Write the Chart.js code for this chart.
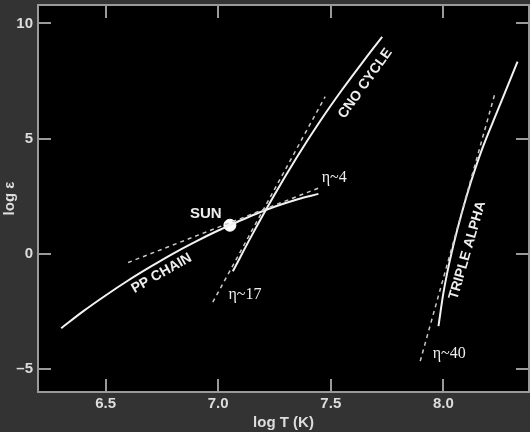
<!DOCTYPE html>
<html>
<head>
<meta charset="utf-8">
<script src="https://cdn.jsdelivr.net/npm/chart.js@4"></script>
<style>
  body { margin: 0; background: #333333; }
  canvas { display: block; }
</style>
</head>
<body>
<canvas id="grafica" width="530" height="432"></canvas>
<script>
// log T (K) vs log epsilon
const ppT = [6.303, 6.40, 6.50, 6.60, 6.70, 6.80, 6.90, 7.00, 7.052, 7.15, 7.25, 7.35, 7.445];
const ppEps = [-3.23, -2.50, -1.81, -1.16, -0.56, 0.01, 0.53, 1.01, 1.24, 1.66, 2.04, 2.36, 2.60];

const cnoT = [7.065, 7.15, 7.25, 7.35, 7.45, 7.55, 7.65, 7.728];
const cnoEps = [-0.76, 0.81, 2.56, 4.20, 5.72, 7.12, 8.43, 9.42];

const tripleT = [7.978, 8.000, 8.025, 8.050, 8.080, 8.120, 8.170, 8.240, 8.329];
const tripleEps = [-3.14, -1.70, -0.45, 0.60, 1.72, 3.05, 4.50, 6.20, 8.34];

// dashed power-law approximations
const ppFitT = [6.600, 7.450];
const ppFitEps = [-0.38, 2.87];
const cnoFitT = [6.976, 7.475];
const cnoFitEps = [-2.10, 6.82];
const tripleFitT = [7.897, 8.231];
const tripleFitEps = [-4.66, 7.04];

const sunT = [7.052];
const sunEps = [1.24];

const xTicks = [6.5, 7.0, 7.5, 8.0];
const yTicks = [-5, 0, 5, 10];

function pts(xs, ys) {
  return xs.map(function(x, i) { return {x: x, y: ys[i]}; });
}

const sans = '"Liberation Sans", Arial, sans-serif';
const serif = '"Liberation Serif", "Times New Roman", serif';

const textLabels = [
  {text: 'SUN', x: 6.945, y: 1.75, angle: 0, font: 'bold 15px ' + sans},
  {text: 'PP CHAIN', x: 6.749, y: -0.85, angle: -29.7, font: 'bold 14px ' + sans},
  {text: 'CNO CYCLE', x: 7.653, y: 7.39, angle: -54.5, font: 'bold 14px ' + sans},
  {text: 'TRIPLE ALPHA', x: 8.107, y: 0.15, angle: -73.8, font: 'bold 14px ' + sans},
  {text: 'η~4', x: 7.515, y: 3.31, angle: 0, font: '16px ' + serif},
  {text: 'η~17', x: 7.119, y: -1.80, angle: 0, font: '16px ' + serif},
  {text: 'η~40', x: 8.026, y: -4.35, angle: 0, font: '16px ' + serif}
];

const frame = {
  id: 'frame',
  beforeDraw: function(chart) {
    const c = chart.ctx, a = chart.chartArea;
    c.save();
    c.fillStyle = '#333333';
    c.fillRect(0, 0, chart.width, chart.height);
    c.fillStyle = '#000000';
    c.fillRect(a.left, a.top, a.right - a.left, a.bottom - a.top);
    c.restore();
  },
  afterDraw: function(chart) {
    const c = chart.ctx, a = chart.chartArea;
    const sx = chart.scales.x, sy = chart.scales.y;
    const len = 13;
    c.save();
    c.strokeStyle = '#9a9a9a';
    c.lineWidth = 2;
    c.strokeRect(a.left, a.top, a.right - a.left, a.bottom - a.top);
    c.beginPath();
    xTicks.forEach(function(v) {
      const px = Math.round(sx.getPixelForValue(v));
      c.moveTo(px, a.bottom); c.lineTo(px, a.bottom - len);
      c.moveTo(px, a.top); c.lineTo(px, a.top + len);
    });
    yTicks.forEach(function(v) {
      const py = Math.round(sy.getPixelForValue(v));
      c.moveTo(a.left, py); c.lineTo(a.left + len, py);
      c.moveTo(a.right, py); c.lineTo(a.right - len, py);
    });
    c.stroke();
    c.restore();
  }
};

const labelsPlugin = {
  id: 'labelsPlugin',
  afterDatasetsDraw: function(chart) {
    const c = chart.ctx;
    const sx = chart.scales.x, sy = chart.scales.y;
    c.save();
    c.fillStyle = '#eeeeee';
    c.textAlign = 'center';
    c.textBaseline = 'middle';
    textLabels.forEach(function(l) {
      c.save();
      c.translate(sx.getPixelForValue(l.x), sy.getPixelForValue(l.y));
      c.rotate(l.angle * Math.PI / 180);
      c.font = l.font;
      c.fillText(l.text, 0, 0);
      c.restore();
    });
    c.restore();
  }
};

function noPad(s) {
  s.paddingTop = 0; s.paddingBottom = 0; s.paddingLeft = 0; s.paddingRight = 0;
}

const solid = {borderColor: '#f2f2f2', borderWidth: 2, pointRadius: 0, fill: false, tension: 0.4, cubicInterpolationMode: 'monotone'};
const dashed = {borderColor: '#c8c8c8', borderWidth: 1.5, borderDash: [4, 4], pointRadius: 0, fill: false, tension: 0};

const ctx = document.getElementById('grafica').getContext('2d');
new Chart(ctx, {
  type: 'line',
  data: {
    datasets: [
      Object.assign({label: 'PP fit', data: pts(ppFitT, ppFitEps)}, dashed),
      Object.assign({label: 'CNO fit', data: pts(cnoFitT, cnoFitEps)}, dashed),
      Object.assign({label: 'Triple alpha fit', data: pts(tripleFitT, tripleFitEps)}, dashed),
      Object.assign({label: 'PP chain', data: pts(ppT, ppEps)}, solid),
      Object.assign({label: 'CNO cycle', data: pts(cnoT, cnoEps)}, solid),
      Object.assign({label: 'Triple alpha', data: pts(tripleT, tripleEps)}, solid),
      {
        label: 'Sun',
        type: 'scatter',
        data: pts(sunT, sunEps),
        pointRadius: 6,
        backgroundColor: '#ffffff',
        borderColor: '#ffffff'
      }
    ]
  },
  options: {
    responsive: false,
    animation: false,
    layout: { autoPadding: false, padding: { top: 5, right: 1, left: 0, bottom: 0 } },
    plugins: {
      legend: { display: false },
      tooltip: { enabled: false }
    },
    scales: {
      x: {
        type: 'linear',
        min: 6.2,
        max: 8.38,
        grid: { display: false, drawTicks: false },
        border: { display: false },
        afterBuildTicks: function(s) { s.ticks = xTicks.map(function(v) { return {value: v}; }); },
        afterFit: function(s) { s.height = 40; noPad(s); },
        ticks: {
          padding: 3,
          color: '#dddddd',
          maxRotation: 0,
          font: { family: sans, size: 15, weight: 'bold' },
          callback: function(v) { return Number(v).toFixed(1); }
        },
        title: {
          display: true,
          text: 'log T (K)',
          color: '#dddddd',
          padding: { top: 0, bottom: 0 },
          font: { family: sans, size: 15, weight: 'bold' }
        }
      },
      y: {
        type: 'linear',
        min: -6,
        max: 10.8,
        grid: { display: false, drawTicks: false },
        border: { display: false },
        afterBuildTicks: function(s) { s.ticks = yTicks.map(function(v) { return {value: v}; }); },
        afterFit: function(s) { s.width = 38; noPad(s); },
        ticks: {
          padding: 5,
          color: '#dddddd',
          font: { family: sans, size: 15, weight: 'bold' },
          callback: function(v) { return v < 0 ? '\u2013' + Math.abs(v) : String(v); }
        },
        title: {
          display: true,
          text: 'log ε',
          color: '#dddddd',
          padding: { top: 1, bottom: 0 },
          font: { family: sans, size: 15, weight: 'bold' }
        }
      }
    }
  },
  plugins: [frame, labelsPlugin]
});
</script>
</body>
</html>
